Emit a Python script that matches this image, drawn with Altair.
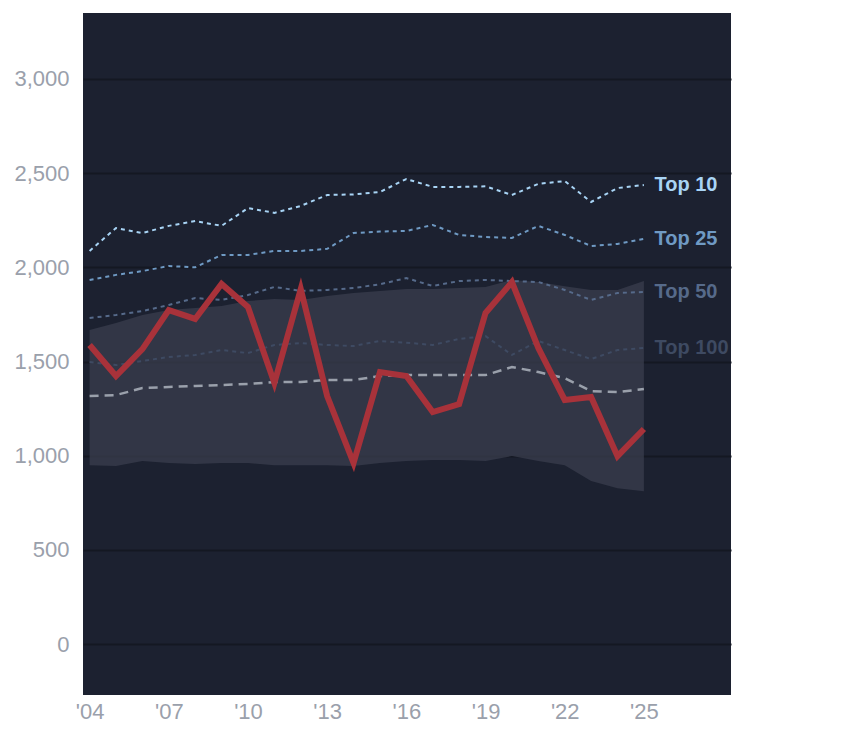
import altair as alt
import pandas as pd

years = list(range(2004, 2026))
team = [1588, 1423, 1566, 1773, 1726, 1912, 1790, 1386, 1885, 1317, 961,
        1444, 1423, 1232, 1274, 1758, 1922, 1572, 1296, 1312, 998, 1142]
top10 = [2087, 2209, 2182, 2220, 2246, 2220, 2315, 2289, 2326, 2384, 2387,
         2400, 2469, 2427, 2427, 2430, 2384, 2443, 2458, 2347, 2421, 2437]
top25 = [1933, 1960, 1980, 2007, 2000, 2066, 2066, 2087, 2087, 2098, 2182,
         2190, 2193, 2225, 2172, 2161, 2156, 2220, 2172, 2113, 2124, 2151]
top50 = [1731, 1747, 1768, 1800, 1837, 1827, 1853, 1896, 1875, 1880, 1890,
         1910, 1943, 1901, 1927, 1933, 1927, 1922, 1880, 1827, 1864, 1869]
top100 = [1497, 1481, 1503, 1524, 1535, 1561, 1545, 1588, 1598, 1588, 1582,
          1609, 1600, 1588, 1620, 1635, 1535, 1609, 1561, 1513, 1561, 1572]
median = [1317, 1322, 1359, 1365, 1370, 1375, 1381, 1391, 1391, 1402, 1402,
          1423, 1428, 1428, 1428, 1428, 1471, 1444, 1412, 1343, 1338, 1354]
band_hi = [1667, 1705, 1747, 1773, 1784, 1795, 1821, 1832, 1827, 1848, 1864,
           1875, 1885, 1885, 1890, 1895, 1933, 1922, 1900, 1880, 1880, 1927]
band_lo = [950, 945, 972, 961, 956, 961, 961, 950, 950, 950, 945,
           961, 972, 977, 977, 972, 998, 972, 950, 866, 828, 812]

tier_names = ["Top 10", "Top 25", "Top 50", "Top 100"]
tier_colors = ["#a8d4f5", "#6f9ac4", "#566a8a", "#3e4a62"]
tier_series = [top10, top25, top50, top100]

df = pd.DataFrame({"year": years, "team": team, "median": median,
                   "hi": band_hi, "lo": band_lo})
tiers = pd.DataFrame([
    {"year": y, "value": v, "tier": n}
    for n, s in zip(tier_names, tier_series) for y, v in zip(years, s)
])
labels = pd.DataFrame({"tier": tier_names, "year": 2025.4,
                       "value": [s[-1] for s in tier_series]})

x_axis = alt.Axis(values=list(range(2004, 2026, 3)), title=None, grid=False,
                  ticks=False, domain=False, labelFontSize=22, labelColor="#9aa0ab",
                  labelPadding=6,
                  labelExpr="\"'\" + substring(toString(datum.value), 2)")
y_axis = alt.Axis(values=[0, 500, 1000, 1500, 2000, 2500, 3000], title=None,
                  ticks=False, domain=False, labelFontSize=22, labelColor="#9aa0ab",
                  gridColor="#141822", gridWidth=2, labelPadding=14)
x_scale = alt.Scale(domain=[2003.75, 2028.3], nice=False, zero=False)
y_scale = alt.Scale(domain=[-270, 3350], nice=False)

x = alt.X("year:Q", scale=x_scale, axis=x_axis)
y = alt.Y("value:Q", scale=y_scale, axis=y_axis)

tier_color = alt.Color("tier:N", scale=alt.Scale(domain=tier_names, range=tier_colors),
                       legend=None)

band = alt.Chart(df).mark_area(color="#3a3e4d", opacity=0.75).encode(
    x=x, y=alt.Y("lo:Q", scale=y_scale, axis=y_axis), y2="hi:Q")
tier_lines = alt.Chart(tiers).mark_line(strokeWidth=2, strokeDash=[4, 4]).encode(
    x=x, y=y, color=tier_color, detail="tier:N")
median_line = alt.Chart(df).mark_line(color="#9aa0ab", strokeWidth=2.5,
                                      strokeDash=[9, 6]).encode(x=x, y=alt.Y("median:Q"))
team_line = alt.Chart(df).mark_line(color="#a8323a", strokeWidth=6).encode(
    x=x, y=alt.Y("team:Q"))
tier_text = alt.Chart(labels).mark_text(align="left", baseline="middle", fontSize=20,
                                        fontWeight="bold", font="Liberation Sans").encode(
    x=x, y=y, text="tier:N", color=tier_color)

chart = alt.layer(band, tier_lines, median_line, team_line, tier_text).properties(
    width=648, height=682, background="#ffffff"
).configure_view(fill="#1c2130", stroke=None).configure_axis(labelFont="Liberation Sans")

chart.save("out.html", embed_options={"renderer": "svg", "actions": False})
